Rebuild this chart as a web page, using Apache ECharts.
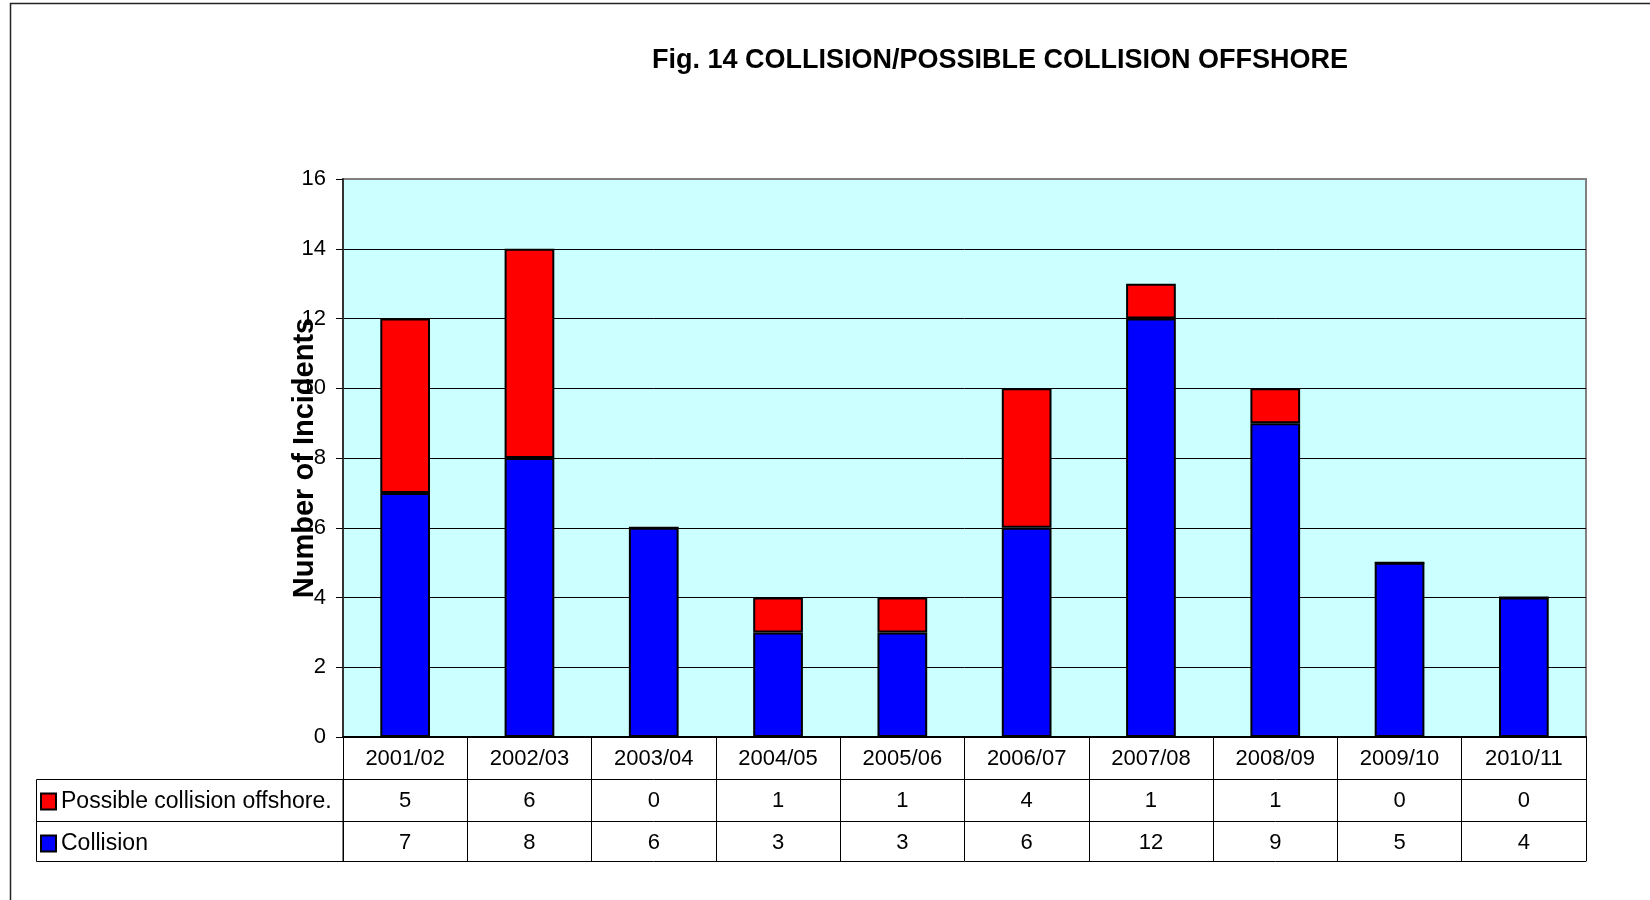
<!DOCTYPE html>
<html>
<head>
<meta charset="utf-8">
<script src="https://cdn.jsdelivr.net/npm/echarts@6/dist/echarts.min.js"></script>
<style>
  html, body { margin: 0; padding: 0; background: #fff; }
  #chart { width: 1650px; height: 900px; }
</style>
</head>
<body>
<div id="chart"></div>
<script>
const seasons = ['2001/02', '2002/03', '2003/04', '2004/05', '2005/06', '2006/07', '2007/08', '2008/09', '2009/10', '2010/11'];
const possibleCollision = [5, 6, 0, 1, 1, 4, 1, 1, 0, 0];
const collision = [7, 8, 6, 3, 3, 6, 12, 9, 5, 4];
const seriesNames = ['Possible collision offshore.', 'Collision'];
const yMin = 0, yMax = 16, yStep = 2;

const FONT = '"Liberation Sans", Arial, sans-serif';
// plot area: x 343..1586, y 179..737 ; table rows below
const G = { left: 343, top: 179, right: 64, bottom: 163 };
const ROW = 42;
const plotBottom = 900 - G.bottom;

const chart = echarts.init(document.getElementById('chart'));

// one category axis per table row; ticks at band boundaries make the cell walls
function rowAxis(offset, values, tickLen, lineWidth) {
  return {
    type: 'category',
    data: seasons,
    position: 'bottom',
    offset: offset,
    axisLine: { show: true, lineStyle: { color: '#000', width: lineWidth } },
    axisTick: { show: tickLen > 0, length: tickLen, interval: 0, lineStyle: { color: '#000', width: 1 } },
    axisLabel: {
      show: values !== null,
      interval: 0,
      margin: 11,
      fontSize: 22,
      fontFamily: FONT,
      color: '#000',
      formatter: (v, i) => (values === null ? '' : values === seasons ? v : String(values[i]))
    },
    splitLine: { show: false }
  };
}

// split line colours: black, except the top one which is the gray plot border
const splitColors = [];
for (let v = yMin; v <= yMax; v += yStep) splitColors.push(v === yMax ? '#808080' : '#000');

chart.setOption({
  animation: false,
  textStyle: { fontFamily: FONT },
  title: {
    text: 'Fig. 14 COLLISION/POSSIBLE COLLISION OFFSHORE',
    left: 652,
    top: 47,
    padding: 0,
    textStyle: { fontSize: 27, fontWeight: 'bold', color: '#000', fontFamily: FONT }
  },
  legend: {
    data: seriesNames,
    orient: 'vertical',
    left: 40,
    top: plotBottom + ROW + 11,
    padding: 0,
    itemWidth: 15,
    itemHeight: 16,
    itemGap: 19,
    icon: 'rect',
    textStyle: { fontSize: 23, lineHeight: 23, color: '#000', fontFamily: FONT }
  },
  grid: {
    left: G.left, top: G.top, right: G.right, bottom: G.bottom,
    show: true,
    backgroundColor: '#CCFFFF',
    borderColor: '#808080',
    borderWidth: 2
  },
  xAxis: [
    rowAxis(0, seasons, ROW, 2),
    rowAxis(ROW, possibleCollision, ROW, 1),
    rowAxis(ROW * 2, collision, ROW - 2, 1),
    rowAxis(ROW * 3 - 2, null, 0, 1)
  ],
  yAxis: {
    type: 'value',
    min: yMin,
    max: yMax,
    interval: yStep,
    name: 'Number of Incidents',
    nameLocation: 'middle',
    nameRotate: 90,
    nameGap: 24,
    nameMoveOverlap: false,
    nameTextStyle: { fontSize: 29, fontWeight: 'bold', color: '#000', fontFamily: FONT },
    axisLine: { show: true, lineStyle: { color: '#333', width: 2 } },
    axisTick: { show: true, length: 7, lineStyle: { color: '#000' } },
    axisLabel: { margin: 17, fontSize: 22, color: '#000', fontFamily: FONT },
    splitLine: { show: true, lineStyle: { color: splitColors, width: 1 } }
  },
  series: [
    {
      name: 'Collision',
      type: 'bar',
      stack: 'total',
      barWidth: '40%',
      data: collision,
      itemStyle: { color: '#0000FF', borderColor: '#000', borderWidth: 2 }
    },
    {
      name: 'Possible collision offshore.',
      type: 'bar',
      stack: 'total',
      barWidth: '40%',
      data: possibleCollision,
      itemStyle: { color: '#FF0000', borderColor: '#000', borderWidth: 2 }
    }
  ],
  graphic: [
    // outer frame of the figure
    { type: 'rect', silent: true, shape: { x: 10.5, y: 3.5, width: 2000, height: 2000 },
      style: { fill: 'none', stroke: '#222', lineWidth: 1.5 } },
    // row-label column of the data table
    { type: 'rect', silent: true, shape: { x: 36.5, y: plotBottom + ROW + 0.5, width: G.left - 36.5, height: ROW * 2 - 2 },
      style: { fill: 'none', stroke: '#000', lineWidth: 1 } },
    { type: 'line', silent: true, shape: { x1: 36.5, y1: plotBottom + ROW * 2 + 0.5, x2: G.left, y2: plotBottom + ROW * 2 + 0.5 },
      style: { stroke: '#000', lineWidth: 1 } }
  ]
});
</script>
</body>
</html>
